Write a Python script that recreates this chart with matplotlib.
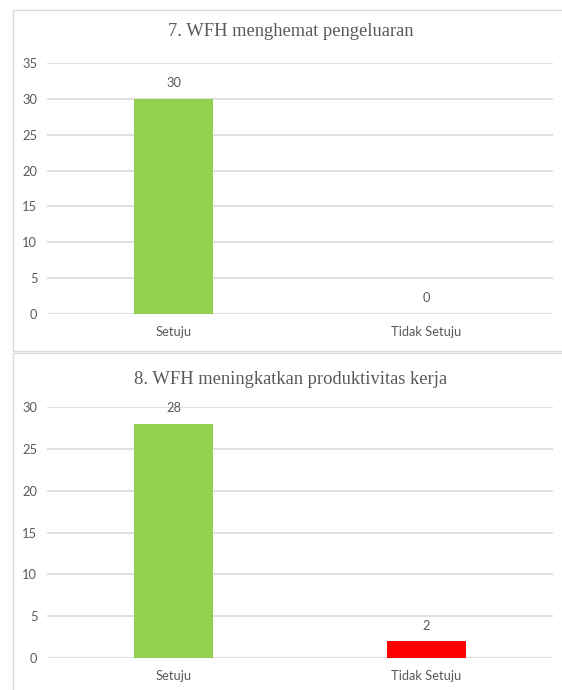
import matplotlib.pyplot as plt
from matplotlib.patches import Rectangle

# data
categories = ["Setuju", "Tidak Setuju"]
title_top = "7. WFH menghemat pengeluaran"
values_top = [30, 0]
title_bottom = "8. WFH meningkatkan produktivitas kerja"
values_bottom = [28, 2]
colors_bottom = ["#92D050", "#FF0000"]
colors_top = ["#92D050", "#92D050"]

W, H = 562, 690
TEXT = "#595959"
GRID = "#D9D9D9"

plt.rcParams["font.family"] = ["Lato", "DejaVu Sans"]

fig = plt.figure(figsize=(W / 100, H / 100), dpi=100)


def fx(px):
    return px / W


def fy(py):
    return 1 - py / H


# chart frames (right edge runs off the picture)
fig.patches.append(Rectangle((fx(12.5), fy(350.5)), fx(580) - fx(12.5), fy(9.5) - fy(350.5),
                             transform=fig.transFigure, fill=False, edgecolor=GRID, lw=1.0))
fig.patches.append(Rectangle((fx(12.5), fy(710)), fx(580) - fx(12.5), fy(353.5) - fy(710),
                             transform=fig.transFigure, fill=False, edgecolor=GRID, lw=1.0))


def draw_chart(top, bottom, title, title_y, values, colors, ymax):
    ax = fig.add_axes([fx(47), fy(bottom), fx(553) - fx(47), fy(top) - fy(bottom)])
    x = range(len(categories))
    bars = ax.bar(x, values, width=0.31, color=colors)
    ax.set_xlim(-0.5, 1.5)
    ax.set_ylim(0, ymax)
    ax.set_yticks(range(0, ymax + 1, 5))
    ax.set_xticks(list(x))
    ax.set_xticklabels(categories)
    for s in ax.spines.values():
        s.set_visible(False)
    ax.grid(axis="y", color=GRID, lw=1.2)
    ax.set_axisbelow(True)
    ax.tick_params(length=0, labelsize=9.3, labelcolor=TEXT)
    ax.tick_params(axis="y", pad=7)
    ax.tick_params(axis="x", pad=9)
    for b, v in zip(bars, values):
        ax.annotate(str(v), (b.get_x() + b.get_width() / 2, v), xytext=(0, 7),
                    textcoords="offset points", ha="center", va="bottom",
                    fontsize=9.3, color=TEXT)
    fig.text(fx(291), fy(title_y), title, ha="center", va="center",
             fontsize=13.3, color=TEXT, family=["Liberation Serif"])
    return ax


draw_chart(63, 314, title_top, 32, values_top, colors_top, 35)
draw_chart(407, 658, title_bottom, 379, values_bottom, colors_bottom, 30)

fig.savefig("out.png", dpi=100)
